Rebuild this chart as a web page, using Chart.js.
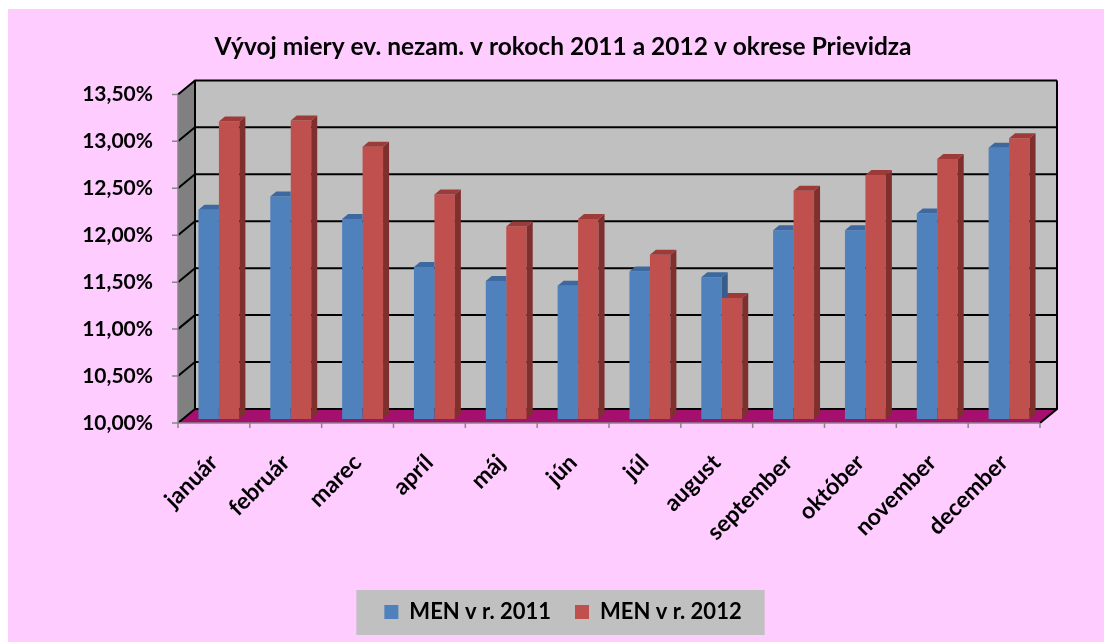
<!DOCTYPE html>
<html>
<head>
<meta charset="utf-8">
<script src="https://cdn.jsdelivr.net/npm/chart.js@4.4.1/dist/chart.umd.min.js"></script>
<style>
  html, body { margin: 0; padding: 0; background: #ffffff; }
  #wrap { width: 1105px; height: 643px; }
</style>
</head>
<body>
<div id="wrap"><canvas id="unempChart" width="1105" height="643"></canvas></div>
<script>
// Data (unemployment rate, %)
const months = ['január','február','marec','apríl','máj','jún','júl','august','september','október','november','december'];
const men2011 = [12.23, 12.37, 12.13, 11.62, 11.47, 11.42, 11.57, 11.51, 12.01, 12.01, 12.19, 12.89];
const men2012 = [13.17, 13.18, 12.90, 12.39, 12.05, 12.13, 11.75, 11.29, 12.43, 12.60, 12.77, 12.99];
const yMin = 10, yMax = 13.5, yStep = 0.5;

// 3D offsets relative to the plane the bar fronts sit in
const FRONT = { dx: -5, dy: 4 };
const BACK = { dx: 12, dy: -10 };
const DEPTH = { dx: 6, dy: -5 };

function poly(ctx, pts, fill) {
  ctx.beginPath();
  ctx.moveTo(pts[0][0], pts[0][1]);
  for (let i = 1; i < pts.length; i++) ctx.lineTo(pts[i][0], pts[i][1]);
  ctx.closePath();
  ctx.fillStyle = fill;
  ctx.fill();
}

// Background, walls, floor, grid and legend box
const scenePlugin = {
  id: 'scene',
  beforeDraw(chart) {
    const ctx = chart.ctx;
    ctx.save();
    ctx.fillStyle = '#ffffff';
    ctx.fillRect(0, 0, chart.width, chart.height);
    ctx.fillStyle = '#ffccff';
    ctx.fillRect(8, 9, 1096, 633);

    // legend background
    const lg = chart.legend;
    if (lg && lg.legendHitBoxes && lg.legendHitBoxes.length) {
      const hb = lg.legendHitBoxes;
      const first = hb[0], last = hb[hb.length - 1];
      const cy = first.top + first.height / 2;
      ctx.fillStyle = '#c0c0c0';
      ctx.fillRect(first.left - 28, cy - 22, (last.left + last.width + 23) - (first.left - 28), 45);
    }
    ctx.restore();
  },
  beforeDatasetsDraw(chart) {
    const ctx = chart.ctx;
    const ca = chart.chartArea;
    const ys = chart.scales.y;
    const L = ca.left, R = ca.right, T = ys.getPixelForValue(yMax), B = ys.getPixelForValue(yMin);
    ctx.save();

    // back wall
    poly(ctx, [[L + BACK.dx, T + BACK.dy], [R + BACK.dx, T + BACK.dy], [R + BACK.dx, B + BACK.dy], [L + BACK.dx, B + BACK.dy]], '#c0c0c0');
    // side wall
    poly(ctx, [[L + FRONT.dx, T + FRONT.dy], [L + BACK.dx, T + BACK.dy], [L + BACK.dx, B + BACK.dy], [L + FRONT.dx, B + FRONT.dy]], '#808080');
    // floor
    poly(ctx, [[L + FRONT.dx, B + FRONT.dy], [R + FRONT.dx, B + FRONT.dy], [R + BACK.dx, B + BACK.dy], [L + BACK.dx, B + BACK.dy]], '#a50f6e');

    // grid lines on back and side wall
    ctx.strokeStyle = '#000000';
    ctx.lineWidth = 2;
    for (let v = yMin; v <= yMax + 1e-9; v += yStep) {
      const y = ys.getPixelForValue(v);
      ctx.beginPath();
      ctx.moveTo(L + FRONT.dx, y + FRONT.dy);
      ctx.lineTo(L + BACK.dx, y + BACK.dy);
      ctx.lineTo(R + BACK.dx, y + BACK.dy);
      ctx.stroke();
    }
    // wall outlines
    ctx.beginPath();
    ctx.moveTo(L + BACK.dx, B + BACK.dy);
    ctx.lineTo(L + BACK.dx, T + BACK.dy);
    ctx.moveTo(R + BACK.dx, T + BACK.dy);
    ctx.lineTo(R + BACK.dx, B + BACK.dy);
    ctx.lineTo(R + FRONT.dx, B + FRONT.dy);
    ctx.stroke();

    // value axis + ticks (front)
    ctx.strokeStyle = '#868686';
    ctx.lineWidth = 1.5;
    ctx.beginPath();
    ctx.moveTo(L + FRONT.dx, T + FRONT.dy);
    ctx.lineTo(L + FRONT.dx, B + FRONT.dy);
    for (let v = yMin; v <= yMax + 1e-9; v += yStep) {
      const y = ys.getPixelForValue(v) + FRONT.dy;
      ctx.moveTo(L + FRONT.dx - 6, y);
      ctx.lineTo(L + FRONT.dx, y);
    }
    // category axis + ticks (front)
    ctx.moveTo(L + FRONT.dx, B + FRONT.dy);
    ctx.lineTo(R + FRONT.dx, B + FRONT.dy);
    const cw = (R - L) / months.length;
    for (let i = 0; i <= months.length; i++) {
      const x = L + i * cw + FRONT.dx;
      ctx.moveTo(x, B + FRONT.dy);
      ctx.lineTo(x, B + FRONT.dy + 5);
    }
    ctx.stroke();
    ctx.restore();
  },
  // side and top faces of each bar, drawn right after its dataset.
  // 2012 (right bar) is drawn first, so the 2011 faces are clipped
  // against the 2012 front face standing next to them.
  afterDatasetDraw(chart, args) {
    const ctx = chart.ctx;
    const ds = chart.data.datasets[args.index];
    const other = args.index === 0 ? chart.getDatasetMeta(1) : null;
    args.meta.data.forEach((bar, i) => {
      const { x, y, base, width } = bar.getProps(['x', 'y', 'base', 'width'], true);
      const l = x - width / 2, r = x + width / 2;
      ctx.save();
      if (other && other.data[i]) {
        const o = other.data[i].getProps(['x', 'y', 'base', 'width'], true);
        ctx.beginPath();
        ctx.rect(0, 0, chart.width, chart.height);
        ctx.rect(o.x - o.width / 2, o.y, o.width, o.base - o.y);
        ctx.clip('evenodd');
      }
      poly(ctx, [[r, y], [r + DEPTH.dx, y + DEPTH.dy], [r + DEPTH.dx, base + DEPTH.dy], [r, base]], ds.sideColor);
      poly(ctx, [[l, y], [l + DEPTH.dx, y + DEPTH.dy], [r + DEPTH.dx, y + DEPTH.dy], [r, y]], ds.topColor);
      ctx.restore();
    });
  }
};

const fmt = (v) => v.toFixed(2).replace('.', ',') + '%';

new Chart(document.getElementById('unempChart'), {
  type: 'bar',
  data: {
    labels: months,
    datasets: [
      {
        label: 'MEN v r. 2011',
        data: men2011,
        backgroundColor: '#4f81bd',
        sideColor: '#385d8a',
        topColor: '#3d69a0'
      },
      {
        label: 'MEN v r. 2012',
        data: men2012,
        backgroundColor: '#c0504d',
        sideColor: '#7f302e',
        topColor: '#9e3b38'
      }
    ]
  },
  options: {
    responsive: false,
    animation: false,
    layout: { padding: { left: 81, right: 60, top: 9, bottom: 10 } },
    datasets: { bar: { categoryPercentage: 0.57, barPercentage: 1.0, borderWidth: 0, base: yMin } },
    plugins: {
      title: {
        display: true,
        text: 'Vývoj miery ev. nezam. v rokoch 2011 a 2012 v okrese Prievidza',
        color: '#000000',
        font: { family: 'Lato', size: 24.5, weight: 'bold' },
        padding: { top: 23, bottom: 29 }
      },
      legend: {
        position: 'bottom',
        labels: {
          color: '#000000',
          font: { family: 'Lato', size: 22, weight: 'bold' },
          boxWidth: 14,
          boxHeight: 14,
          padding: 24
        }
      },
      tooltip: { enabled: false }
    },
    scales: {
      x: {
        grid: { display: false, drawTicks: false },
        border: { display: false },
        ticks: {
          color: '#000000',
          font: { family: 'Lato', size: 23, weight: 'bold' },
          minRotation: 45,
          maxRotation: 45,
          autoSkip: false,
          padding: 30,
          labelOffset: -5
        },
        afterFit: (s) => { s.height = 158; }
      },
      y: {
        min: yMin,
        max: yMax,
        grid: { display: false, drawTicks: false },
        border: { display: false },
        ticks: {
          stepSize: yStep,
          color: '#000000',
          font: { family: 'Lato', size: 21, weight: 'bold' },
          padding: 30,
          labelOffset: 4,
          callback: (v) => fmt(v)
        },
        afterFit: (s) => { s.width = 102; }
      }
    }
  },
  plugins: [scenePlugin]
});
</script>
</body>
</html>
